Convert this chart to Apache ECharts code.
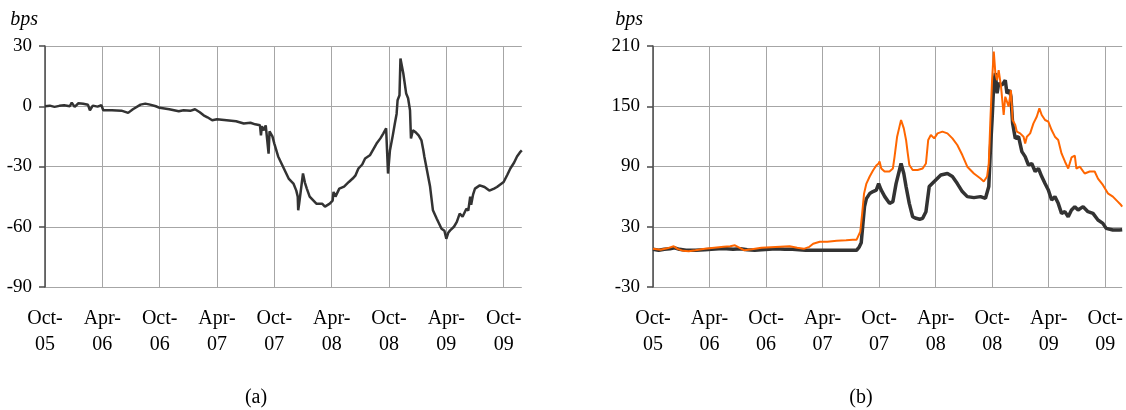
<!DOCTYPE html>
<html>
<head>
<meta charset="utf-8">
<script src="https://cdn.jsdelivr.net/npm/echarts@6/dist/echarts.min.js"></script>
<style>
  html, body { margin: 0; padding: 0; background: #ffffff; }
  #chart { width: 1126px; height: 410px; }
</style>
</head>
<body>
<div id="chart"></div>
<script>
// Time runs in months counted from 1 October 2005; values are in basis points.
const monthTicks = [0, 6, 12, 18, 24, 30, 36, 42, 48];
const monthLabels = ['Oct-\n05', 'Apr-\n06', 'Oct-\n06', 'Apr-\n07', 'Oct-\n07',
                     'Apr-\n08', 'Oct-\n08', 'Apr-\n09', 'Oct-\n09'];
const yTicksA = [-90, -60, -30, 0, 30];
const yTicksB = [-30, 30, 90, 150, 210];

// Panel (a)
const monthsA = [0, 0.5, 1.0, 1.5, 2.0, 2.6, 2.8, 3.1, 3.5, 4.0, 4.2, 4.5, 4.7, 5.0, 5.5, 5.9, 6.1, 7.0, 8.0, 8.7,
  9.2, 10.0, 10.5, 11.0, 11.6, 12.0, 13.0, 14.0, 14.5, 15.2, 15.7, 16.2, 16.6, 17.0, 17.5, 18.0, 19.0, 20.0, 20.8, 21.5,
  22.0, 22.5, 22.6, 22.7, 22.9, 23.1, 23.4, 23.5, 23.8, 24.0, 24.4, 25.0, 25.5, 26.0, 26.3, 26.45, 26.5, 26.6, 26.8, 27.0,
  27.2, 27.4, 27.7, 28.0, 28.4, 29.0, 29.3, 29.8, 30.1, 30.2, 30.4, 30.8, 31.3, 31.8, 32.2, 32.5, 32.8, 33.2, 33.5, 34.0,
  34.7, 35.1, 35.4, 35.7, 35.85, 35.9, 36.1, 36.4, 36.6, 36.8, 36.9, 37.1, 37.2, 37.5, 37.8, 38.0, 38.2, 38.3, 38.5, 38.8,
  39.1, 39.4, 39.6, 39.7, 39.9, 40.3, 40.6, 41.0, 41.5, 41.8, 42.0, 42.2, 42.4, 42.8, 43.1, 43.4, 43.7, 44.1, 44.3, 44.5,
  44.6, 44.8, 45.0, 45.5, 46.0, 46.5, 46.7, 47.0, 47.3, 48.0, 48.4, 48.7, 49.1, 49.4, 49.7, 49.9];
const spreadA = [0, 0.3, -0.3, 0.2, 0.5, 0, 1.8, -0.3, 1.5, 1.2, 2.0, 0.7, -2.0, 0.3, -0.2, 0.5, -2.0, -2.0, -2.2, -3.3,
  -1.5, 0.8, 1.3, 0.8, 0, -0.8, -1.5, -2.5, -2.0, -2.3, -1.5, -3.0, -4.5, -5.5, -7.0, -6.5, -7.0, -7.5, -8.6, -8.2,
  -9.0, -9.5, -14.5, -10.0, -12, -9.5, -23.6, -12.5, -15, -18.6, -25, -31, -36, -38.5, -42, -45, -51.8, -48.5, -48.5, -33.5,
  -38, -41, -45, -46.5, -48.5, -48.5, -50, -48.5, -47, -42.7, -45, -41, -40, -37.7, -36, -34.4, -31, -29, -26, -24.4,
  -18.6, -16, -13.6, -11, -11.5, -33.5, -22, -14.5, -9, -3.7, 3, 5.5, 23.8, 16.3, 6.3, 4, -2, -16, -12, -13,
  -14.5, -17, -22, -25, -30, -40, -51.8, -56, -61, -62, -66, -63, -61.8, -60, -57.6, -53.5, -55, -51, -52, -45,
  -49, -44, -41, -39.4, -40.2, -42, -42.7, -41, -40.2, -37.7, -34, -31, -28, -25, -23, -22];

// Panel (b), dark series
const monthsBDark = [0, 0.6, 1.2, 1.8, 2.3, 2.8, 3.5, 4.5, 5.5, 6.2, 7, 7.8, 8.5, 9.3, 10, 10.8, 11.5, 12.3, 13, 14,
  14.8, 15.5, 16.2, 17, 18, 19, 20, 21, 21.6, 21.9, 22.1, 22.3, 22.45, 22.65, 23.0, 23.35, 23.7, 23.95, 24.2, 24.6,
  25.1, 25.46, 25.8, 26.16, 26.33, 26.62, 26.86, 27.2, 27.56, 27.91, 28.3, 28.62, 28.97, 29.32, 29.85, 30.55, 31.25, 31.78, 32.3, 32.83,
  33.36, 34.06, 34.76, 35.29, 35.64, 35.81, 35.99, 36.17, 36.34, 36.52, 36.69, 37.04, 37.39, 37.57, 37.85, 37.99, 38.17, 38.45, 38.8, 39.15,
  39.5, 39.85, 40.2, 40.56, 40.91, 41.26, 41.61, 41.96, 42.31, 42.66, 43.01, 43.36, 43.72, 44.07, 44.42, 44.77, 45.12, 45.65, 46.17, 46.7,
  47.23, 47.75, 48.1, 48.81, 49.5, 49.8];
const spreadBDark = [7.5, 6.5, 7.5, 8, 9, 7.5, 6.5, 6.5, 7, 7.5, 8, 8, 7.5, 8, 7, 6.5, 7, 7.5, 8, 7.5,
  7.5, 7, 6.5, 6.5, 6.5, 6.5, 6.5, 6.5, 6.5, 10, 14, 35, 50, 58, 63, 65, 66.5, 73, 67, 60,
  53.3, 55, 73, 86.5, 93, 83, 70, 53.3, 40, 38.4, 37.5, 38.4, 45, 70, 75, 81.5, 83, 80, 73, 65,
  60, 59, 60, 58.3, 70, 106.4, 136.3, 172.8, 183, 162.9, 172.8, 171, 176, 162.9, 166, 159.5, 133, 118, 119.7, 104.8,
  99.8, 91.5, 93, 85, 88, 80, 73, 66.6, 56.6, 60, 53.3, 43.3, 45, 40, 46.7, 50, 46.7, 50, 45, 43.3,
  36.7, 33.4, 28.4, 26.7, 26.7, 27];

// Panel (b), orange series
const monthsBOrange = [0, 0.8, 1.5, 2.2, 2.6, 3.2, 3.8, 4.5, 5.5, 6.5, 7.5, 8.2, 8.7, 9.2, 9.7, 10.5, 11.5, 12.5, 13.5, 14.5,
  15.3, 16.0, 16.6, 17.0, 17.7, 18.5, 19.5, 20.5, 21.2, 21.6, 21.8, 22.0, 22.2, 22.4, 22.65, 23.0, 23.35, 23.7, 23.95, 24.05,
  24.23, 24.58, 25.1, 25.46, 25.63, 25.91, 26.16, 26.33, 26.62, 26.86, 27.04, 27.21, 27.56, 28.09, 28.62, 28.97, 29.21, 29.49, 29.85, 30.2,
  30.72, 31.25, 31.78, 32.3, 32.83, 33.36, 34.06, 34.76, 35.11, 35.46, 35.64, 35.81, 35.99, 36.17, 36.34, 36.52, 36.69, 36.94, 37.22, 37.39,
  37.57, 37.75, 37.99, 38.17, 38.45, 38.62, 38.97, 39.33, 39.5, 39.68, 40.03, 40.38, 40.73, 41.01, 41.26, 41.61, 41.96, 42.31, 42.66, 43.01,
  43.36, 43.72, 44.07, 44.42, 44.77, 44.94, 45.3, 45.82, 46.35, 46.88, 47.23, 47.75, 48.28, 48.81, 49.33, 49.68, 49.8];
const spreadBOrange = [8, 7, 8.5, 10.5, 8, 6, 5.5, 6.5, 8, 9, 10, 10.5, 11.5, 9, 6.5, 7.5, 9, 9.5, 10, 10.5,
  9, 8, 10, 13, 15, 15, 16, 16.5, 17, 17, 18.5, 25, 43, 63, 73, 80, 86, 91, 93, 95,
  88, 85, 85, 88, 99, 119.7, 129.7, 136.3, 128, 116.4, 103, 91.5, 86.5, 86.5, 88, 93, 116.4, 121.3, 118, 123,
  124.7, 123, 118, 111.4, 101.4, 89.8, 83, 78, 75, 80, 93, 136.3, 176, 204.4, 182.8, 176, 186, 169.5, 141.3, 159.5,
  161.2, 149.6, 166, 136.3, 131.3, 124.7, 123, 119.7, 113, 119.7, 123, 133, 139.6, 147.9, 141.3, 136.3, 134.6, 126.3, 119.7, 116.4,
  103, 95, 88, 99, 100.8, 88, 89.8, 83, 85, 85, 78, 71.6, 63.3, 60, 55, 51.6, 50];

const zip = (xs, ys) => xs.map((x, i) => [x, ys[i]]);

const FONT = '"Liberation Serif", "Times New Roman", serif';
const GRID_GREY = '#a6a6a6';
const AXIS_DARK = '#4a4a4a';

function xAxisFor(gridIndex, maxMonth) {
  return {
    type: 'value', gridIndex, min: 0, max: maxMonth, interval: 6,
    axisLine: { show: false },
    axisTick: { show: false, customValues: monthTicks },
    splitLine: { show: true, lineStyle: { color: GRID_GREY, width: 1 } },
    axisLabel: {
      customValues: monthTicks,
      margin: 19,
      fontFamily: FONT, fontSize: 20, color: '#000', lineHeight: 26,
      formatter: v => monthLabels[monthTicks.indexOf(Math.round(v))] || ''
    }
  };
}

function yAxisFor(gridIndex, min, max, interval) {
  return {
    type: 'value', gridIndex, min, max, interval,
    axisLine: { show: true, lineStyle: { color: AXIS_DARK, width: 1.5 } },
    axisTick: { show: true, length: 6, lineStyle: { color: AXIS_DARK, width: 1.5 } },
    splitLine: { show: true, lineStyle: { color: GRID_GREY, width: 1 } },
    axisLabel: { margin: 13, fontFamily: FONT, fontSize: 19, color: '#000' }
  };
}

const chart = echarts.init(document.getElementById('chart'), null, { renderer: 'canvas' });
chart.setOption({
  animation: false,
  backgroundColor: '#ffffff',
  grid: [
    { left: 45, top: 46, width: 476.8, height: 241 },
    { left: 653, top: 46, width: 473, height: 241 }
  ],
  xAxis: [xAxisFor(0, 49.9), xAxisFor(1, 49.8)],
  yAxis: [
    yAxisFor(0, yTicksA[0], yTicksA[yTicksA.length - 1], 30),
    yAxisFor(1, yTicksB[0], yTicksB[yTicksB.length - 1], 60)
  ],
  series: [
    {
      type: 'line', xAxisIndex: 0, yAxisIndex: 0, showSymbol: false,
      data: zip(monthsA, spreadA),
      lineStyle: { color: '#333333', width: 2.5 }
    },
    {
      type: 'line', xAxisIndex: 1, yAxisIndex: 1, showSymbol: false,
      data: zip(monthsBDark, spreadBDark),
      lineStyle: { color: '#333333', width: 3.5 }
    },
    {
      type: 'line', xAxisIndex: 1, yAxisIndex: 1, showSymbol: false,
      data: zip(monthsBOrange, spreadBOrange),
      lineStyle: { color: '#ff6600', width: 2 }
    }
  ],
  graphic: [
    { type: 'text', x: 38, y: 20, style: { text: 'bps', font: 'italic 20px ' + FONT, fill: '#000', align: 'right', verticalAlign: 'middle' } },
    { type: 'text', x: 643, y: 20, style: { text: 'bps', font: 'italic 20px ' + FONT, fill: '#000', align: 'right', verticalAlign: 'middle' } },
    { type: 'text', x: 256, y: 398, style: { text: '(a)', font: '20px ' + FONT, fill: '#000', align: 'center', verticalAlign: 'middle' } },
    { type: 'text', x: 861, y: 398, style: { text: '(b)', font: '20px ' + FONT, fill: '#000', align: 'center', verticalAlign: 'middle' } }
  ]
});
</script>
</body>
</html>
